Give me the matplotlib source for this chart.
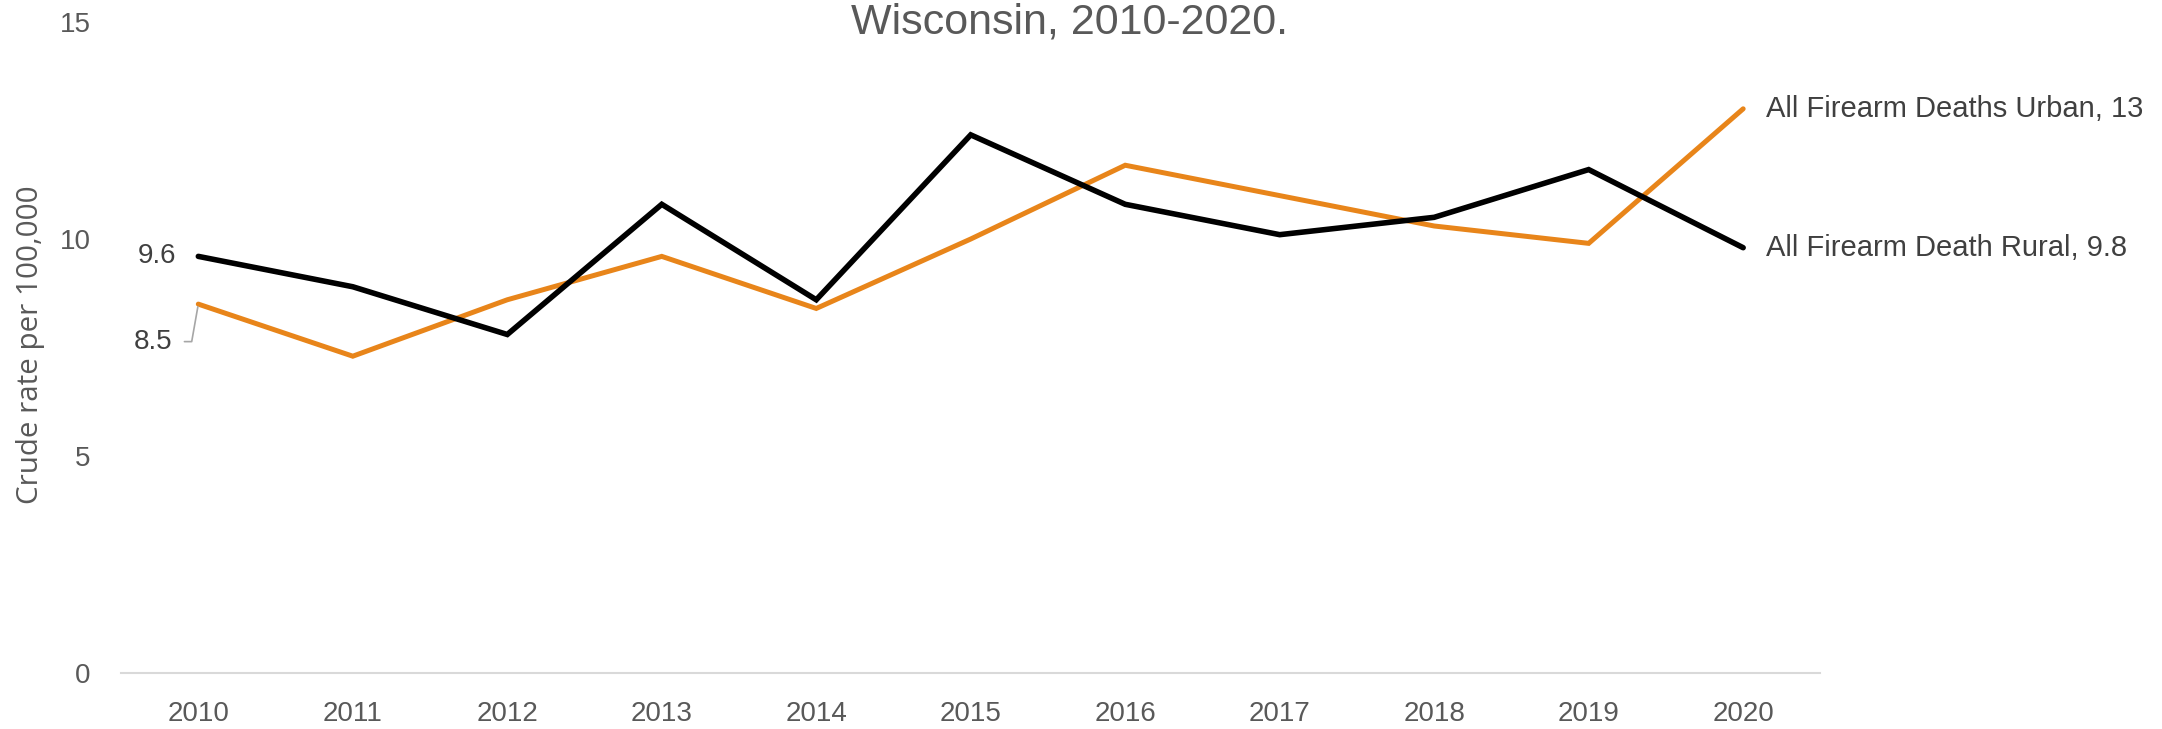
import matplotlib.pyplot as plt
import matplotlib

matplotlib.rcParams['font.family'] = ['Liberation Sans', 'DejaVu Sans']

years = ['2010', '2011', '2012', '2013', '2014', '2015', '2016', '2017', '2018', '2019', '2020']
rural = [9.6, 8.9, 7.8, 10.8, 8.6, 12.4, 10.8, 10.1, 10.5, 11.6, 9.8]
urban = [8.5, 7.3, 8.6, 9.6, 8.4, 10.0, 11.7, 11.0, 10.3, 9.9, 13.0]
yticks = [0, 5, 10, 15]
rural_name = 'All Firearm Death Rural'
urban_name = 'All Firearm Deaths Urban'

fig = plt.figure(figsize=(21.62, 7.29), dpi=100)
ax = fig.add_axes([0.056, 0.0768, 0.786, 0.893])

x = range(len(years))
ax.plot(x, urban, color='#E8851A', linewidth=3.6, solid_capstyle='round', solid_joinstyle='miter')
ax.plot(x, rural, color='black', linewidth=4.0, solid_capstyle='round', solid_joinstyle='miter')

ax.set_xlim(-0.5, len(years) - 0.5)
ax.set_ylim(0, 15)
ax.set_xticks(list(x))
ax.set_xticklabels(years)
ax.set_yticks(yticks)
ax.tick_params(length=0, labelsize=20, colors='#595959')
ax.tick_params(axis='x', pad=20)
ax.tick_params(axis='y', pad=22)
for s in ['top', 'right', 'left']:
    ax.spines[s].set_visible(False)
ax.spines['bottom'].set_color('#d9d9d9')
ax.spines['bottom'].set_linewidth(1.5)
ax.set_ylabel('Crude rate per 100,000', fontsize=21.3, color='#595959', family=['Open Sans', 'DejaVu Sans'])
ax.yaxis.set_label_coords(-0.045, 0.504)

# point labels
ax.annotate(f'{rural[0]}', xy=(0, rural[0]), xytext=(-16, 0), textcoords='offset points',
            ha='right', va='center', fontsize=20, color='#404040')
ax.annotate(f'{urban[0]:g}', xy=(0, urban[0]), xytext=(-19, -27), textcoords='offset points',
            ha='right', va='center', fontsize=20, color='#404040',
            arrowprops=dict(arrowstyle='-', color='#a6a6a6', lw=1.2,
                            connectionstyle='angle,angleA=0,angleB=80,rad=0', shrinkA=7, shrinkB=2))
ax.annotate(f'{urban_name}, {urban[-1]:g}', xy=(len(years) - 1, urban[-1]), xytext=(16.5, 0),
            textcoords='offset points', ha='left', va='center', fontsize=21, color='#404040',
            annotation_clip=False)
ax.annotate(f'{rural_name}, {rural[-1]:g}', xy=(len(years) - 1, rural[-1]), xytext=(16.5, 0),
            textcoords='offset points', ha='left', va='center', fontsize=21, color='#404040',
            annotation_clip=False)

fig.text(0.4945, 0.9547, 'Wisconsin, 2010-2020.', ha='center', va='baseline', fontsize=31, color='#595959')

fig.savefig('out.png', dpi=100)
